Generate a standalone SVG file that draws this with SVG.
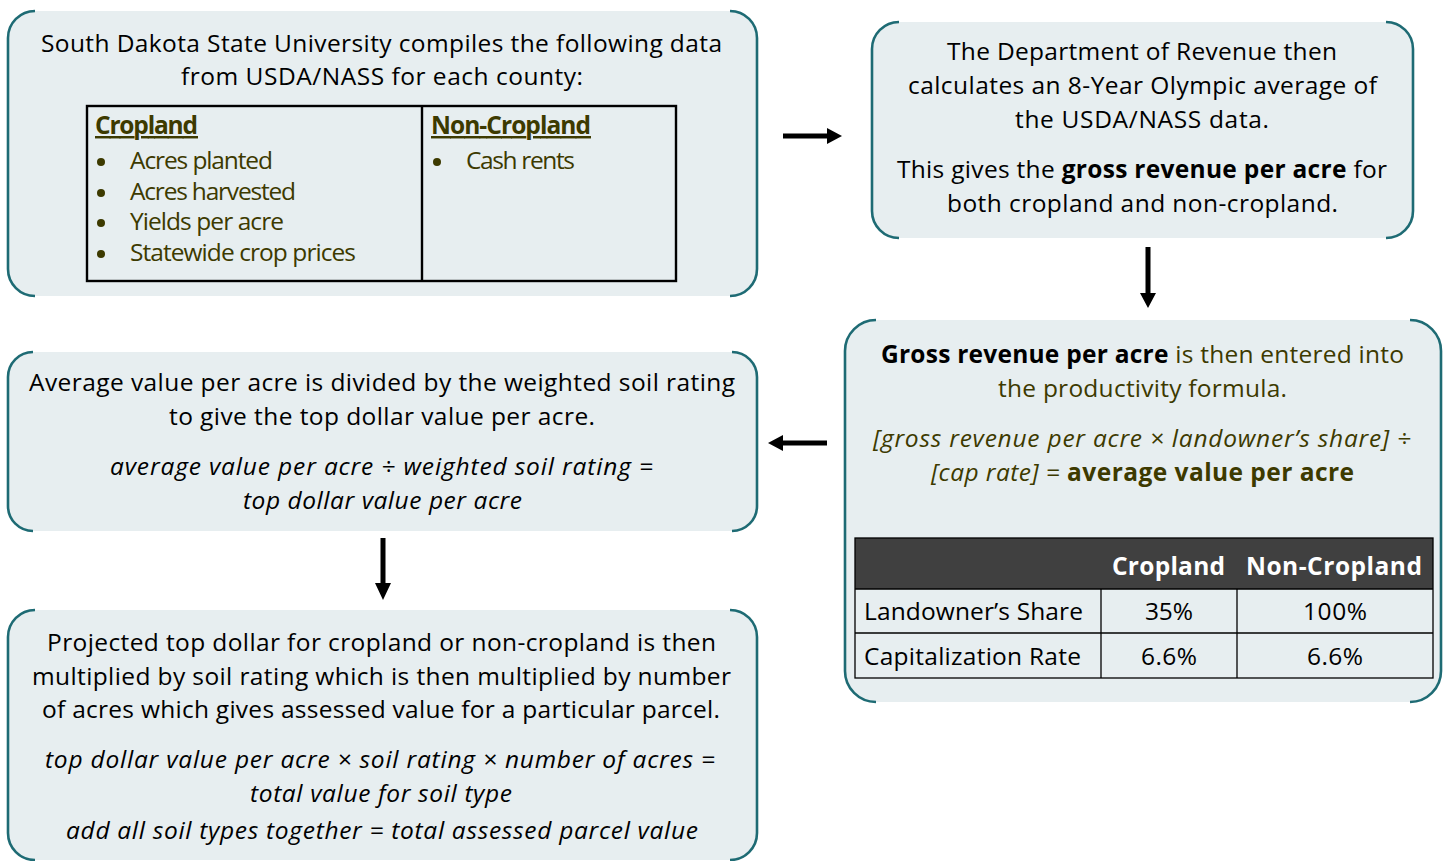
<svg xmlns="http://www.w3.org/2000/svg" width="1445" height="861" viewBox="0 0 1445 861">
  <style>
    .fill { fill: #e7eef0; }
    .edge { fill: none; stroke: #1e6b74; stroke-width: 2.6; }
    .t { font-family: "Open Sans", "Noto Sans", sans-serif; font-size: 24.5px; fill: #000; }
    .ol { fill: #3d3a00; }
    .b { font-weight: bold; }
    .i { font-style: italic; }
    .grid { fill: none; stroke: #000; stroke-width: 2.4; }
    .cell { fill: none; stroke: #000; stroke-width: 1.3; }
    .hdr { fill: #404040; }
    .wh { fill: #fff; font-weight: bold; }
    .dot { fill: #3d3a00; }
  </style>

  <!-- Box 1: data sources -->
  <g id="node-sources">
    <rect class="fill" x="8" y="11" width="749" height="285" rx="27"/>
    <path class="edge" d="M35,11 A27,27 0 0 0 8,38 V269 A27,27 0 0 0 35,296"/>
    <path class="edge" d="M730,11 A27,27 0 0 1 757,38 V269 A27,27 0 0 1 730,296"/>
    <text class="t" x="41" y="52" textLength="681">South Dakota State University compiles the following data</text>
    <text class="t" x="181" y="85" textLength="402">from USDA/NASS for each county:</text>
    <rect class="grid" x="87" y="106" width="589" height="175"/>
    <line class="grid" x1="422" y1="106" x2="422" y2="281"/>
    <text class="t ol b" x="95" y="134" textLength="103" text-decoration="underline">Cropland</text>
    <circle class="dot" cx="101" cy="162" r="4"/>
    <circle class="dot" cx="101" cy="193" r="4"/>
    <circle class="dot" cx="101" cy="223" r="4"/>
    <circle class="dot" cx="101" cy="254" r="4"/>
    <text class="t ol" x="130" y="169" textLength="143">Acres planted</text>
    <text class="t ol" x="130" y="200" textLength="166">Acres harvested</text>
    <text class="t ol" x="130" y="230" textLength="154">Yields per acre</text>
    <text class="t ol" x="130" y="261" textLength="226">Statewide crop prices</text>
    <text class="t ol b" x="431" y="134" textLength="160" text-decoration="underline">Non-Cropland</text>
    <circle class="dot" cx="437" cy="162" r="4"/>
    <text class="t ol" x="466" y="169" textLength="109">Cash rents</text>
  </g>

  <!-- Box 2: Olympic average -->
  <g id="node-average">
    <rect class="fill" x="872" y="22" width="541" height="216" rx="27"/>
    <path class="edge" d="M899,22 A27,27 0 0 0 872,49 V211 A27,27 0 0 0 899,238"/>
    <path class="edge" d="M1386,22 A27,27 0 0 1 1413,49 V211 A27,27 0 0 1 1386,238"/>
    <text class="t" x="947" y="60" textLength="390">The Department of Revenue then</text>
    <text class="t" x="908" y="94" textLength="469">calculates an 8-Year Olympic average of</text>
    <text class="t" x="1015" y="128" textLength="254">the USDA/NASS data.</text>
    <text class="t" x="897" y="178" textLength="490">This gives the <tspan class="b">gross revenue per acre</tspan> for</text>
    <text class="t" x="947" y="212" textLength="391">both cropland and non-cropland.</text>
  </g>

  <!-- Box 3: productivity formula -->
  <g id="node-formula">
    <rect class="fill" x="845" y="320" width="596" height="382" rx="31"/>
    <path class="edge" d="M876,320 A31,31 0 0 0 845,351 V671 A31,31 0 0 0 876,702"/>
    <path class="edge" d="M1410,320 A31,31 0 0 1 1441,351 V671 A31,31 0 0 1 1410,702"/>
    <text class="t" x="881" y="363" textLength="523"><tspan class="b">Gross revenue per acre</tspan><tspan class="ol"> is then entered into</tspan></text>
    <text class="t ol" x="998" y="397" textLength="289">the productivity formula.</text>
    <text class="t ol i" x="873" y="447" textLength="538">[gross revenue per acre × landowner’s share] ÷</text>
    <text class="t ol" x="931" y="481" textLength="423"><tspan class="i">[cap rate] = </tspan><tspan class="b">average value per acre</tspan></text>
    <rect class="hdr" x="855" y="538" width="578" height="51"/>
    <rect class="cell" x="855" y="538" width="578" height="140"/>
    <line class="cell" x1="855" y1="589" x2="1433" y2="589"/>
    <line class="cell" x1="855" y1="633" x2="1433" y2="633"/>
    <line class="cell" x1="1101" y1="589" x2="1101" y2="678"/>
    <line class="cell" x1="1237" y1="589" x2="1237" y2="678"/>
    <text class="t wh" x="1112" y="575" textLength="113">Cropland</text>
    <text class="t wh" x="1246" y="575" textLength="176">Non-Cropland</text>
    <text class="t" x="864" y="620" textLength="219">Landowner’s Share</text>
    <text class="t" x="1145" y="620" textLength="48">35%</text>
    <text class="t" x="1303" y="620" textLength="64">100%</text>
    <text class="t" x="864" y="665" textLength="217">Capitalization Rate</text>
    <text class="t" x="1141" y="665" textLength="56">6.6%</text>
    <text class="t" x="1307" y="665" textLength="56">6.6%</text>
  </g>

  <!-- Box 4: top dollar -->
  <g id="node-topdollar">
    <rect class="fill" x="8" y="352" width="749" height="179" rx="25"/>
    <path class="edge" d="M33,352 A25,25 0 0 0 8,377 V506 A25,25 0 0 0 33,531"/>
    <path class="edge" d="M732,352 A25,25 0 0 1 757,377 V506 A25,25 0 0 1 732,531"/>
    <text class="t" x="29" y="391" textLength="706">Average value per acre is divided by the weighted soil rating</text>
    <text class="t" x="169" y="425" textLength="426">to give the top dollar value per acre.</text>
    <text class="t i" x="110" y="475" textLength="543">average value per acre ÷ weighted soil rating =</text>
    <text class="t i" x="243" y="509" textLength="279">top dollar value per acre</text>
  </g>

  <!-- Box 5: assessed value -->
  <g id="node-assessed">
    <rect class="fill" x="8" y="610" width="749" height="250" rx="27"/>
    <path class="edge" d="M35,610 A27,27 0 0 0 8,637 V833 A27,27 0 0 0 35,860"/>
    <path class="edge" d="M730,610 A27,27 0 0 1 757,637 V833 A27,27 0 0 1 730,860"/>
    <text class="t" x="47" y="651" textLength="669">Projected top dollar for cropland or non-cropland is then</text>
    <text class="t" x="32" y="685" textLength="699">multiplied by soil rating which is then multiplied by number</text>
    <text class="t" x="42" y="718" textLength="678">of acres which gives assessed value for a particular parcel.</text>
    <text class="t i" x="45" y="768" textLength="670">top dollar value per acre × soil rating × number of acres =</text>
    <text class="t i" x="250" y="802" textLength="262">total value for soil type</text>
    <text class="t i" x="66" y="839" textLength="632">add all soil types together = total assessed parcel value</text>
  </g>

  <!-- Connectors -->
  <g id="connectors" fill="#000">
    <path d="M783,133.5 H827 V128 L842,136 L827,144 V138.5 H783 Z"/>
    <path d="M1145.5,247 V293 H1140 L1148,308 L1156,293 H1150.5 V247 Z"/>
    <path d="M827,440.5 H783 V435 L768,443 L783,451 V445.5 H827 Z"/>
    <path d="M380.5,538 V583 H375 L383,600 L391,583 H385.5 V538 Z"/>
  </g>
</svg>
